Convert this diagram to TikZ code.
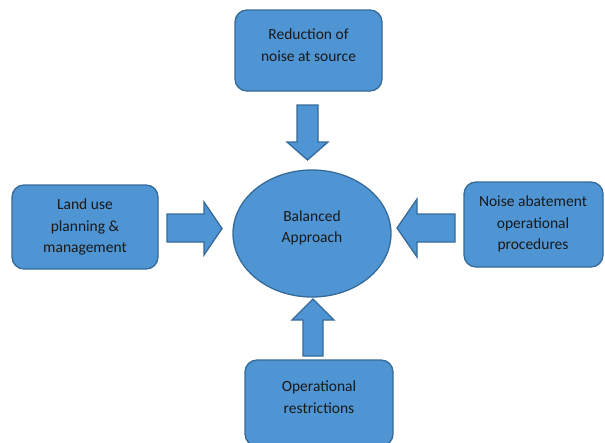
\documentclass[tikz,border=0pt]{standalone}
\usepackage{fontspec}
\setmainfont{Carlito}
\definecolor{boxfill}{HTML}{4F95D3}
\definecolor{boxline}{HTML}{356A99}
\begin{document}
\begin{tikzpicture}[x=1pt,y=-1pt,
  shp/.style={fill=boxfill,draw=boxline,line width=1.3pt,line join=miter},
  rbox/.style={shp,rounded corners=12pt},
  txt/.style={align=center,font=\fontsize{15.5}{21.5}\selectfont,text=black!90,inner sep=0pt}]
\useasboundingbox (0,0) rectangle (605,442);
\clip (0,0) rectangle (605,442);
% boxes
\draw[rbox] (235,10) rectangle (382,91);
\node[txt] (top) at (308.5,45) {Reduction of\\noise at source};
\draw[rbox] (12,185) rectangle (158,269);
\node[txt] (left) at (85,227) {Land use\\planning \&\\management};
\draw[rbox] (464,182) rectangle (603,267);
\node[txt] (right) at (533,224) {Noise abatement\\operational\\procedures};
\draw[rbox] (245,360) rectangle (393,446);
\node[txt] (bottom) at (319,397) {Operational\\restrictions};
% ellipse
\draw[shp] (312,233.5) ellipse [x radius=79, y radius=63.5];
\node[txt] (center) at (312,228) {Balanced\\Approach};
% arrows
\draw[shp] (297,105) -- (318,105) -- (318,142) -- (328,142) -- (307.5,160) -- (287,142) -- (297,142) -- cycle;
\draw[shp] (167,214) -- (204,214) -- (204,202) -- (222,228.5) -- (204,255) -- (204,242) -- (167,242) -- cycle;
\draw[shp] (455,214) -- (417,214) -- (417,199) -- (397,228) -- (417,257) -- (417,242) -- (455,242) -- cycle;
\draw[shp] (303,356) -- (323,356) -- (323,320) -- (334,320) -- (313,299) -- (292,320) -- (303,320) -- cycle;
\end{tikzpicture}
\end{document}
